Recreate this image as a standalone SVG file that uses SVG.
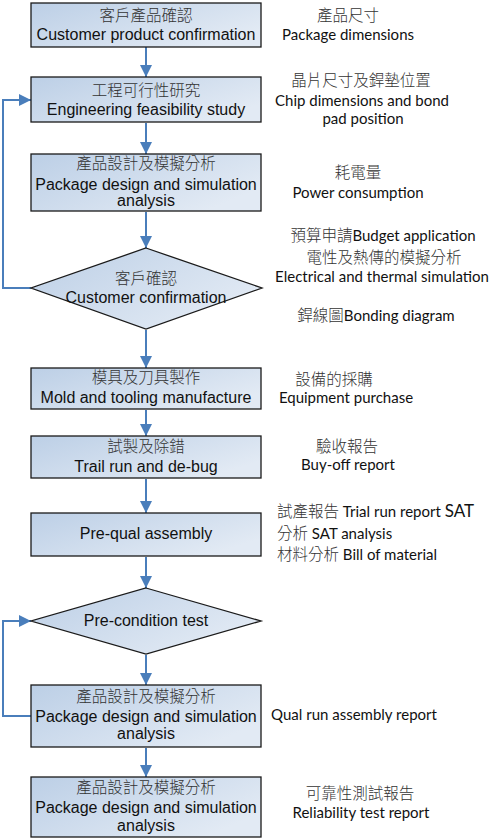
<svg xmlns="http://www.w3.org/2000/svg" width="497" height="838" viewBox="0 0 497 838">
<defs>
<linearGradient id="g" x1="0" y1="0" x2="1" y2="0.6">
<stop offset="0" stop-color="#bccfe6"/>
<stop offset="1" stop-color="#e2eaf4"/>
</linearGradient>
<marker id="ah" markerUnits="userSpaceOnUse" markerWidth="12" markerHeight="12" viewBox="0 0 12 12" refX="12" refY="6" orient="auto">
<path d="M0,0 L12,6 L0,12 z" fill="#4a7ebb"/>
</marker>
</defs>
<style>
.box{fill:url(#g);stroke:#1a1a1a;stroke-width:1.3}
.en{font-family:"Liberation Sans",Arial,sans-serif;font-size:16px;fill:#111;text-anchor:middle}
.zh{font-family:"Noto Sans CJK TC","Noto Sans CJK SC",sans-serif;font-size:15.5px;fill:#333;text-anchor:middle;font-weight:300}
.rt{font-family:Lato,"Noto Sans CJK TC",sans-serif;font-size:15px;fill:#111;text-anchor:middle}
.rz{font-family:"Noto Sans CJK TC",sans-serif;font-size:15.5px;fill:#333;text-anchor:middle;font-weight:300}
.cj{font-family:"Noto Sans CJK TC",sans-serif;font-size:15.5px;fill:#333;font-weight:300}
.rl{text-anchor:start}
.c{fill:none;stroke:#4a7ebb;stroke-width:2}
</style>
<g id="connectors">
<line class="c" x1="146" y1="47" x2="146" y2="77" marker-end="url(#ah)"/>
<line class="c" x1="146" y1="123" x2="146" y2="154" marker-end="url(#ah)"/>
<line class="c" x1="146" y1="212" x2="146" y2="248" marker-end="url(#ah)"/>
<line class="c" x1="146" y1="330" x2="146" y2="368" marker-end="url(#ah)"/>
<line class="c" x1="146" y1="410" x2="146" y2="436" marker-end="url(#ah)"/>
<line class="c" x1="146" y1="479" x2="146" y2="513" marker-end="url(#ah)"/>
<line class="c" x1="146" y1="557" x2="146" y2="588" marker-end="url(#ah)"/>
<line class="c" x1="146" y1="655" x2="146" y2="685" marker-end="url(#ah)"/>
<line class="c" x1="146" y1="748" x2="146" y2="777" marker-end="url(#ah)"/>
<polyline class="c" points="31,288 3,288 3,100 31,100" marker-end="url(#ah)"/>
<polyline class="c" points="31,716 3,716 3,621 31,621" marker-end="url(#ah)"/>
</g>
<g id="n1"><rect class="box" x="31" y="3" width="230" height="44"/><text class="zh" x="146" y="21">客戶產品確認</text><text class="en" x="146" y="40">Customer product confirmation</text></g>
<g id="n2"><rect class="box" x="31" y="77" width="230" height="45"/><text class="zh" x="146" y="96">工程可行性研究</text><text class="en" x="146" y="115">Engineering feasibility study</text></g>
<g id="n3"><rect class="box" x="31" y="154" width="230" height="57"/><text class="zh" x="146" y="169">產品設計及模擬分析</text><text class="en" x="146" y="190">Package design and simulation</text><text class="en" x="146" y="206">analysis</text></g>
<g id="n4"><polygon class="box" points="146,248 262,288 146,329 31,288"/><text class="zh" x="146" y="284">客戶確認</text><text class="en" x="146" y="303">Customer confirmation</text></g>
<g id="n5"><rect class="box" x="31" y="368" width="230" height="41"/><text class="zh" x="146" y="383">模具及刀具製作</text><text class="en" x="146" y="403">Mold and tooling manufacture</text></g>
<g id="n6"><rect class="box" x="31" y="436" width="230" height="42"/><text class="zh" x="146" y="452">試製及除錯</text><text class="en" x="146" y="472">Trail run and de-bug</text></g>
<g id="n7"><rect class="box" x="31" y="513" width="230" height="43"/><text class="en" x="146" y="539">Pre-qual assembly</text></g>
<g id="n8"><polygon class="box" points="146,588 261,621 146,654 31,621"/><text class="en" x="146" y="626">Pre-condition test</text></g>
<g id="n9"><rect class="box" x="31" y="685" width="230" height="62"/><text class="zh" x="146" y="702">產品設計及模擬分析</text><text class="en" x="146" y="722">Package design and simulation</text><text class="en" x="146" y="739">analysis</text></g>
<g id="n10"><rect class="box" x="31" y="777" width="230" height="60"/><text class="zh" x="146" y="793">產品設計及模擬分析</text><text class="en" x="146" y="813">Package design and simulation</text><text class="en" x="146" y="831">analysis</text></g>
<g id="notes">
<text class="rz" x="348" y="21">產品尺寸</text>
<text class="rt" x="348" y="40">Package dimensions</text>
<text class="rz" x="361" y="86">晶片尺寸及銲墊位置</text>
<text class="rt" x="362" y="106">Chip dimensions and bond</text>
<text class="rt" x="363" y="124">pad position</text>
<text class="rz" x="358" y="178">耗電量</text>
<text class="rt" x="358" y="198">Power consumption</text>
<text class="rt" x="383" y="241"><tspan class="cj">預算申請</tspan>Budget application</text>
<text class="rz" x="384" y="263">電性及熱傳的模擬分析</text>
<text class="rt" x="382" y="282">Electrical and thermal simulation</text>
<text class="rt" x="376" y="321"><tspan class="cj">銲線圖</tspan>Bonding diagram</text>
<text class="rz" x="334" y="385">設備的採購</text>
<text class="rt" x="346" y="403">Equipment purchase</text>
<text class="rz" x="347" y="452">驗收報告</text>
<text class="rt" x="348" y="470">Buy-off report</text>
<text class="rt rl" x="277" y="517"><tspan class="cj">試產報告</tspan> Trial run report <tspan font-size="17">SAT</tspan></text>
<text class="rt rl" x="277" y="539"><tspan class="cj">分析</tspan> SAT analysis</text>
<text class="rt rl" x="277" y="560"><tspan class="cj">材料分析</tspan> Bill of material</text>
<text class="rt" x="354" y="720">Qual run assembly report</text>
<text class="rz" x="360" y="799">可靠性測試報告</text>
<text class="rt" x="361" y="818">Reliability test report</text>
</g>
</svg>
